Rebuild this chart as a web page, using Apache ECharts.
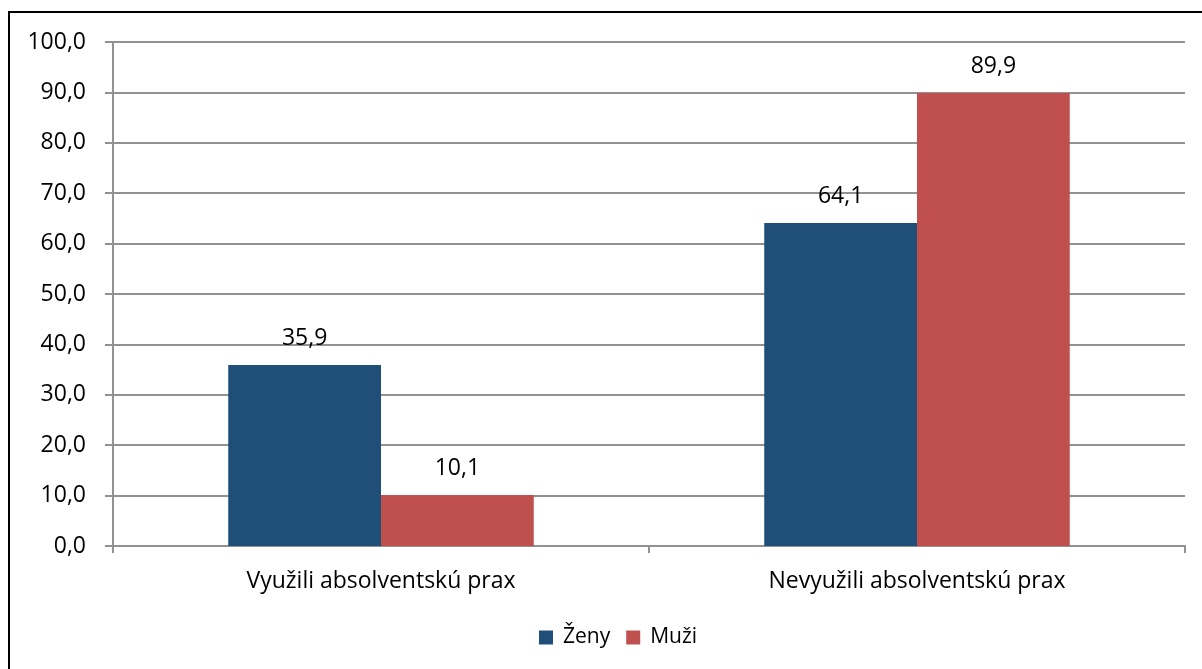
<!DOCTYPE html>
<html>
<head>
<meta charset="utf-8">
<script src="https://cdn.jsdelivr.net/npm/echarts@6/dist/echarts.min.js"></script>
<style>
  html, body { margin: 0; padding: 0; background: #fff; }
  #main { width: 1202px; height: 669px; }
</style>
</head>
<body>
<div id="main"></div>
<script>
var categories = ['Využili absolventskú prax', 'Nevyužili absolventskú prax'];
var zeny = [35.9, 64.1];
var muzi = [10.1, 89.9];

var fontName = 'Open Sans';
var gridColor = '#929292';

function fmt(v) {
    return Number(v).toFixed(1).replace('.', ',');
}

var myChart = echarts.init(document.getElementById('main'));
var option = {
    animation: false,
    color: ['#1F4E79', '#C0504D'],
    textStyle: { fontFamily: fontName },
    graphic: [
        {
            // ramcek okolo grafu
            type: 'rect',
            shape: { x: 9, y: 12, width: 1300, height: 800 },
            style: { fill: 'none', stroke: '#000', lineWidth: 2 },
            silent: true
        }
    ],
    grid: {
        left: 113,
        right: 17,
        top: 42,
        bottom: 123
    },
    legend: {
        bottom: 16,
        left: 534,
        icon: 'rect',
        itemWidth: 14,
        itemHeight: 14,
        itemGap: 16,
        textStyle: { fontSize: 21, color: '#000', fontFamily: fontName, padding: [0, 0, 0, 5] },
        data: ['Ženy', 'Muži']
    },
    xAxis: {
        type: 'category',
        data: categories,
        axisLine: { lineStyle: { color: gridColor, width: 2 } },
        axisTick: { show: true, length: 7, lineStyle: { color: gridColor, width: 2 } },
        axisLabel: { fontSize: 23, color: '#000', margin: 24, fontFamily: fontName }
    },
    yAxis: {
        type: 'value',
        min: 0,
        max: 100,
        interval: 10,
        axisLine: { show: true, lineStyle: { color: gridColor, width: 2 } },
        axisTick: { show: true, length: 8, lineStyle: { color: gridColor, width: 2 } },
        axisLabel: {
            fontSize: 23,
            color: '#000',
            margin: 27,
            fontFamily: fontName,
            formatter: fmt
        },
        splitLine: { lineStyle: { color: gridColor, width: 2 } }
    },
    series: [
        {
            name: 'Ženy',
            type: 'bar',
            data: zeny,
            barGap: 0,
            barCategoryGap: '43%',
            label: {
                show: true,
                position: 'top',
                distance: 15,
                fontSize: 23,
                color: '#000',
                fontFamily: fontName,
                formatter: function (p) { return fmt(p.value); }
            }
        },
        {
            name: 'Muži',
            type: 'bar',
            data: muzi,
            barGap: 0,
            barCategoryGap: '43%',
            label: {
                show: true,
                position: 'top',
                distance: 15,
                fontSize: 23,
                color: '#000',
                fontFamily: fontName,
                formatter: function (p) { return fmt(p.value); }
            }
        }
    ]
};
myChart.setOption(option);
</script>
</body>
</html>
